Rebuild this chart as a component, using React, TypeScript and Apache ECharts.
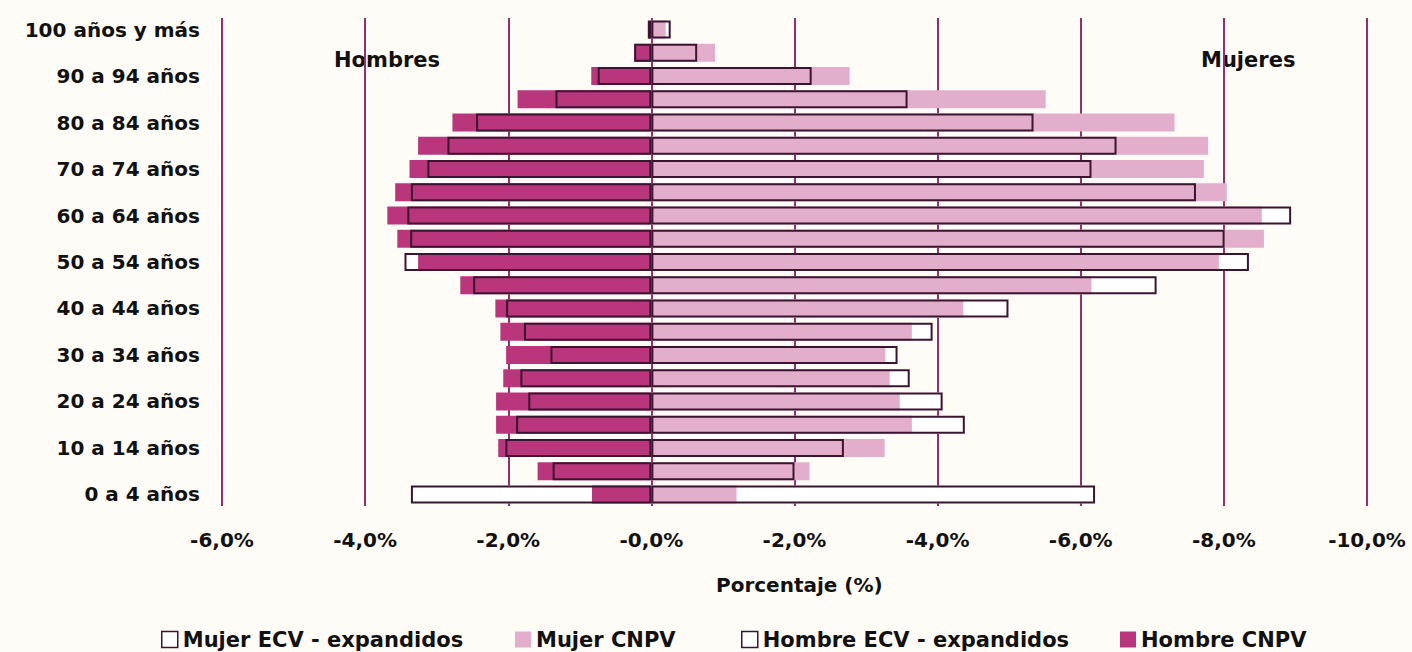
import React, { useEffect, useRef } from "react";
import * as echarts from "echarts";

const categories = [
  "0 a 4 años", "5 a 9 años", "10 a 14 años", "15 a 19 años", "20 a 24 años",
  "25 a 29 años", "30 a 34 años", "35 a 39 años", "40 a 44 años", "45 a 49 años",
  "50 a 54 años", "55 a 59 años", "60 a 64 años", "65 a 69 años", "70 a 74 años",
  "75 a 79 años", "80 a 84 años", "85 a 89 años", "90 a 94 años", "95 a 99 años",
  "100 años y más",
];

// values in %, bottom (0 a 4) to top (100 y más)
const mujerECV = [6.2, 2.0, 2.69, 4.38, 4.07, 3.61, 3.44, 3.93, 4.99, 7.06, 8.35, 8.01, 8.94, 7.61, 6.15, 6.5, 5.34, 3.58, 2.24, 0.64, 0.27];
const mujerCNPV = [1.19, 2.21, 3.26, 3.64, 3.47, 3.33, 3.27, 3.64, 4.36, 6.15, 7.93, 8.56, 8.53, 8.04, 7.72, 7.78, 7.31, 5.51, 2.77, 0.89, 0.2];
const hombreECV = [3.36, 1.38, 2.04, 1.89, 1.72, 1.83, 1.41, 1.78, 2.03, 2.49, 3.45, 3.37, 3.41, 3.36, 3.13, 2.85, 2.45, 1.34, 0.75, 0.24, 0.05];
const hombreCNPV = [0.83, 1.59, 2.14, 2.17, 2.17, 2.07, 2.03, 2.11, 2.18, 2.67, 3.26, 3.55, 3.69, 3.58, 3.38, 3.26, 2.78, 1.87, 0.84, 0.24, 0.04];

const xTicks = { min: -6, max: 10, interval: 2 };

const FONT = "'DejaVu Sans', sans-serif";
const BORDER = "#3b1430";
const C_H = "#b9367c";
const C_M = "#e3aecb";
const GRID = "#952f68";
const BG = "#fffcf7";
const TXT = "#111";
const BW = 18;

export default function App() {
  const ref = useRef<HTMLDivElement>(null);
  useEffect(() => {
    if (!ref.current) return;
    const chart = echarts.init(ref.current, null, { renderer: "svg" });
    const neg = (a: number[]) => a.map((v) => -v);
    const baseBar = { type: "bar", barWidth: BW, barGap: "-100%" };
    const legendBase = {
      top: 629,
      padding: 0,
      icon: "rect",
      itemWidth: 16,
      itemHeight: 16,
      itemGap: 6,
      textStyle: { fontFamily: FONT, fontWeight: "bold", fontSize: 21, color: TXT, lineHeight: 18 },
    };
    const ecvIcon = { color: "#ffffff", borderColor: BORDER, borderWidth: 1.5 };
    chart.setOption({
      animation: false,
      backgroundColor: BG,
      grid: { left: 222, right: 45, top: 18, bottom: 146 },
      xAxis: {
        type: "value",
        min: xTicks.min,
        max: xTicks.max,
        interval: xTicks.interval,
        axisLine: { show: false },
        axisTick: { show: false },
        splitLine: { show: true, lineStyle: { color: GRID, width: 2 } },
        axisLabel: {
          margin: 24,
          fontFamily: FONT,
          fontWeight: "bold",
          fontSize: 20,
          color: TXT,
          formatter: (v: number) => "-" + Math.abs(v).toFixed(1).replace(".", ",") + "%",
        },
      },
      yAxis: {
        type: "category",
        data: categories,
        axisLine: { show: false },
        axisTick: { show: false },
        axisLabel: {
          interval: 1,
          margin: 22,
          fontFamily: FONT,
          fontWeight: "bold",
          fontSize: 20,
          color: TXT,
        },
      },
      legend: [
        { ...legendBase, left: 161, data: [{ name: "Mujer ECV - expandidos", itemStyle: ecvIcon }] },
        { ...legendBase, left: 515, data: ["Mujer CNPV"] },
        { ...legendBase, left: 741, data: [{ name: "Hombre ECV - expandidos", itemStyle: ecvIcon }] },
        { ...legendBase, left: 1120, data: ["Hombre CNPV"] },
      ],
      graphic: [
        { type: "text", left: 334, top: 49, style: { text: "Hombres", font: `bold 21px ${FONT}`, fill: TXT } },
        { type: "text", left: 1201, top: 49, style: { text: "Mujeres", font: `bold 21px ${FONT}`, fill: TXT } },
        { type: "text", left: 716, top: 575, style: { text: "Porcentaje (%)", font: `bold 20px ${FONT}`, fill: TXT } },
      ],
      series: [
        { ...baseBar, name: "_fillM", data: mujerECV, itemStyle: { color: "#ffffff" }, silent: true },
        { ...baseBar, name: "_fillH", data: neg(hombreECV), itemStyle: { color: "#ffffff" }, silent: true },
        { ...baseBar, name: "Mujer CNPV", data: mujerCNPV, itemStyle: { color: C_M } },
        { ...baseBar, name: "Hombre CNPV", data: neg(hombreCNPV), itemStyle: { color: C_H } },
        { ...baseBar, name: "Mujer ECV - expandidos", data: mujerECV, itemStyle: { color: "rgba(0,0,0,0)", borderColor: BORDER, borderWidth: 2 } },
        { ...baseBar, name: "Hombre ECV - expandidos", data: neg(hombreECV), itemStyle: { color: "rgba(0,0,0,0)", borderColor: BORDER, borderWidth: 2 } },
      ],
    });
    return () => chart.dispose();
  }, []);
  return (
    <div
      ref={ref}
      style={{ position: "absolute", left: 0, top: 0, width: 1412, height: 652, background: BG }}
    />
  );
}
